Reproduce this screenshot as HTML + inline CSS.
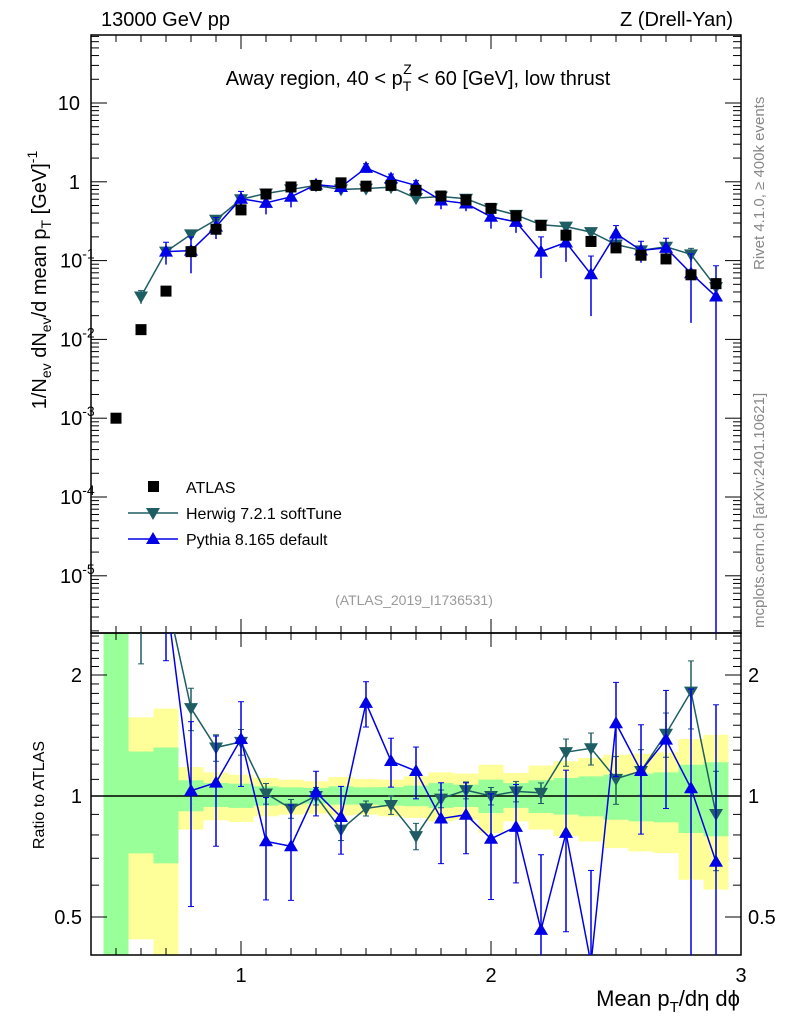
<!DOCTYPE html>
<html><head><meta charset="utf-8"><style>
html,body{margin:0;padding:0;background:#fff;width:786px;height:1024px;overflow:hidden}
svg{font-family:"Liberation Sans",sans-serif;display:block;position:absolute;left:0;top:0}
</style></head><body>
<svg id="c" width="786" height="1024" xmlns="http://www.w3.org/2000/svg">
<text x="101" y="26" font-size="20">13000 GeV pp</text>
<text x="733" y="26" font-size="20" text-anchor="end">Z (Drell-Yan)</text>
<text x="418" y="85" font-size="20" text-anchor="middle">Away region, 40 &lt; p<tspan font-size="14" dy="6">T</tspan><tspan font-size="14" dx="-8" dy="-17">Z</tspan><tspan dy="11"> &lt; 60 [GeV], low thrust</tspan></text>
<text x="414" y="605" font-size="14" fill="#999" text-anchor="middle">(ATLAS_2019_I1736531)</text>
<text transform="translate(764,270) rotate(-90)" font-size="15" fill="#888">Rivet 4.1.0, ≥ 400k events</text>
<text transform="translate(764,628) rotate(-90)" font-size="15" fill="#888">mcplots.cern.ch [arXiv:2401.10621]</text>
<text transform="translate(46,280) rotate(-90)" font-size="20" text-anchor="middle">1/N<tspan font-size="14" dy="5">ev</tspan><tspan dy="-5"> dN</tspan><tspan font-size="14" dy="5">ev</tspan><tspan dy="-5">/d mean p</tspan><tspan font-size="14" dy="5">T</tspan><tspan dy="-5"> [GeV]</tspan><tspan font-size="14" dy="-9">-1</tspan></text>
<text transform="translate(44,795) rotate(-90)" font-size="16" text-anchor="middle">Ratio to ATLAS</text>
<text x="740" y="1006" font-size="22" text-anchor="end">Mean p<tspan font-size="15" dy="6">T</tspan><tspan dy="-6">/dη dϕ</tspan></text>
<g>
<rect x="148" y="481" width="11" height="11" fill="#000"/>
<text x="186" y="493" font-size="16">ATLAS</text>
<line x1="128" x2="178" y1="513" y2="513" stroke="#1d5d63" stroke-width="1.5"/>
<polygon points="153,520 146,508 160,508" fill="#1d5d63"/>
<text x="186" y="519" font-size="16">Herwig 7.2.1 softTune</text>
<line x1="128" x2="178" y1="539" y2="539" stroke="#0000e6" stroke-width="1.5"/>
<polygon points="153,532 146,544 160,544" fill="#0000e6"/>
<text x="186" y="545" font-size="16">Pythia 8.165 default</text>
</g>
</svg>
<script>
const xs=[0.5,0.6,0.7,0.8,0.9,1.0,1.1,1.2,1.3,1.4,1.5,1.6,1.7,1.8,1.9,2.0,2.1,2.2,2.3,2.4,2.5,2.6,2.7,2.8,2.9];
const atlas=[0.001,0.0133,0.041,0.13,0.25,0.44,0.70,0.86,0.9,0.97,0.88,0.9,0.78,0.66,0.59,0.46,0.37,0.28,0.21,0.175,0.145,0.117,0.105,0.066,0.051];
const herwigX=[0.6,0.7,0.8,0.9,1.0,1.1,1.2,1.3,1.4,1.5,1.6,1.7,1.8,1.9,2.0,2.1,2.2,2.3,2.4,2.5,2.6,2.7,2.8,2.9];
const herwig=[0.035,0.13,0.215,0.33,0.60,0.71,0.80,0.9,0.80,0.82,0.855,0.62,0.65,0.61,0.46,0.38,0.285,0.27,0.23,0.16,0.135,0.15,0.12,0.046];
const herwigErr=[0.5,0.3,0.2,0.1,0.1,0.06,0.05,0.05,0.05,0.04,0.05,0.06,0.05,0.05,0.05,0.06,0.06,0.1,0.12,0.15,0.15,0.18,0.35,0.25];
const pythiaX=[0.7,0.8,0.9,1.0,1.1,1.2,1.3,1.4,1.5,1.6,1.7,1.8,1.9,2.0,2.1,2.2,2.3,2.4,2.5,2.6,2.7,2.8,2.9];
const pythia=[0.13,0.134,0.27,0.61,0.54,0.645,0.92,0.86,1.5,1.1,0.9,0.58,0.53,0.36,0.31,0.13,0.17,0.067,0.22,0.135,0.145,0.069,0.035];
const pythiaErr=[1.0,0.5,0.33,0.33,0.22,0.2,0.13,0.17,0.22,0.17,0.17,0.2,0.18,0.23,0.23,0.25,0.35,0.27,0.4,0.35,0.45,0.8,1.0];
const yelHi=[3,1.57,1.65,1.18,1.145,1.13,1.109,1.098,1.088,1.115,1.102,1.098,1.119,1.145,1.137,1.196,1.141,1.19,1.22,1.243,1.267,1.274,1.284,1.386,1.42];
const grnHi=[3,1.29,1.32,1.094,1.077,1.073,1.057,1.051,1.047,1.057,1.051,1.053,1.061,1.077,1.067,1.098,1.077,1.094,1.109,1.119,1.13,1.137,1.145,1.196,1.213];
const grnLo=[0.3,0.72,0.68,0.916,0.939,0.934,0.946,0.952,0.957,0.952,0.952,0.946,0.943,0.934,0.939,0.907,0.934,0.907,0.899,0.89,0.873,0.865,0.86,0.809,0.794];
const yelLo=[0.3,0.44,0.3,0.825,0.87,0.862,0.89,0.899,0.904,0.894,0.899,0.89,0.882,0.865,0.873,0.809,0.865,0.825,0.794,0.771,0.742,0.728,0.721,0.619,0.585];
const mainTicks=[-5,-4,-3,-2,-1,0,1];
const ratioTicks=[0.5,1,2];
const xTicks=[1,2,3];

const S=document.getElementById('c'),NS='http://www.w3.org/2000/svg';
function el(t,a,p){const e=document.createElementNS(NS,t);for(const k in a)e.setAttribute(k,a[k]);(p||S).appendChild(e);return e;}
const L=91,R=741,T=35,MB=633,RB=955;
const X=v=>L+(v-0.4)/2.6*(R-L);
const Y=v=>103-(Math.log10(v)-1)*78.8;
const YR=v=>796-Math.log2(v)*121;
const clipM=el('clipPath',{id:'cm'});el('rect',{x:L,y:T,width:R-L,height:MB-T},clipM);
const clipR=el('clipPath',{id:'cr'});el('rect',{x:L,y:MB,width:R-L,height:RB-MB},clipR);
const gb=el('g',{'clip-path':'url(#cr)'});


xs.forEach((x,i)=>{
 const x0=X(x-0.05),x1=X(x+0.05);
 const y1=el('rect',{x:x0,y:YR(yelHi[i]),width:x1-x0,height:YR(yelLo[i])-YR(yelHi[i]),fill:'#ffff99'},gb);
 
 
 const g1=el('rect',{x:x0,y:YR(grnHi[i]),width:x1-x0,height:YR(grnLo[i])-YR(grnHi[i]),fill:'#99ff99'},gb);
 
 
});
el('line',{x1:L,x2:R,y1:YR(1),y2:YR(1),stroke:'#000','stroke-width':1.5});
el('rect',{x:L,y:T,width:R-L,height:MB-T,fill:'none',stroke:'#000','stroke-width':1.5});
el('rect',{x:L,y:MB,width:R-L,height:RB-MB,fill:'none',stroke:'#000','stroke-width':1.5});
for(let k=4;k<=30;k++){const v=k/10,xp=X(v),maj=k%10==0;
 const len=maj?14:7;
 [[T,1],[MB,-1],[MB,1],[RB,-1]].forEach(([yy,d])=>el('line',{x1:xp,x2:xp,y1:yy,y2:yy+d*len,stroke:'#000'}));
}
xTicks.forEach(v=>{const t=el('text',{x:X(v),y:982,'font-size':20,'text-anchor':'middle'});t.textContent=v;
 
 });
for(let d=-6;d<=1;d++)for(let m=1;m<10;m++){const v=m*Math.pow(10,d),yp=Y(v);if(yp<T||yp>MB)continue;
 const len=m==1?16:8;el('line',{x1:L,x2:L+len,y1:yp,y2:yp,stroke:'#000'});el('line',{x1:R,x2:R-len,y1:yp,y2:yp,stroke:'#000'});}
mainTicks.forEach(d=>{const t=el('text',{x:d>=0?80:60,y:Y(Math.pow(10,d))+7,'font-size':20,'text-anchor':d>=0?'end':'start'});
 if(d==0)t.textContent='1';else if(d==1)t.textContent='10';else{t.textContent='10';const s=el('tspan',{dy:-9,'font-size':14},t);s.textContent=d;}
 
 });
for(let v=0.4;v<=2.55;v+=0.1){const yp=YR(v);if(yp<MB||yp>RB)continue;const r=Math.round(v*10)/10;const maj=(r==0.5||r==1||r==2);
 const len=maj?16:8;el('line',{x1:L,x2:L+len,y1:yp,y2:yp,stroke:'#000'});el('line',{x1:R,x2:R-len,y1:yp,y2:yp,stroke:'#000'});}
ratioTicks.forEach(v=>{[[82,'end'],[748,'start']].forEach(([x,a])=>{const t=el('text',{x:x,y:YR(v)+7,'font-size':20,'text-anchor':a});t.textContent=v;
 
 });});
function tri(g,x,y,up,c){const s=7;const p=up?`${x},${y-s} ${x-s},${y+5} ${x+s},${y+5}`:`${x},${y+s} ${x-s},${y-5} ${x+s},${y-5}`;
 return el('polygon',{points:p,fill:c},g);}
function series(xv,vals,errs,col,up,name){
 const gm=el('g',{'clip-path':'url(#cm)'});
 
 
 const gr=el('g',{'clip-path':'url(#cr)'});
 
 
 let pm='',pr='';
 xv.forEach((x,i)=>{const ai=xs.indexOf(x),a=atlas[ai],v=vals[i],r=v/a,e=errs[i];
  const xp=X(x),ym=Y(v),yr=YR(r);pm+=(i?'L':'M')+xp+','+ym;pr+=(i?'L':'M')+xp+','+yr;
  const lo=(r-e)>0.01?Y(v-e*a):MB,hi=Y(v+e*a);
  el('line',{x1:xp,x2:xp,y1:hi,y2:lo,stroke:col,'stroke-width':1.5},gm);
  el('line',{x1:xp-3,x2:xp+3,y1:hi,y2:hi,stroke:col},gm);
  const rlo=(r-e)>0.05?YR(r-e):RB,rhi=YR(r+e);
  el('line',{x1:xp,x2:xp,y1:rhi,y2:rlo,stroke:col,'stroke-width':1.5},gr);
  el('line',{x1:xp-3,x2:xp+3,y1:rhi,y2:rhi,stroke:col},gr);
  if(rlo<RB)el('line',{x1:xp-3,x2:xp+3,y1:rlo,y2:rlo,stroke:col},gr);
  const m1=tri(gm,xp,ym,up,col);
  
  
  const m2=tri(gr,xp,yr,up,col);
  
  
 });
 el('path',{d:pm,fill:'none',stroke:col,'stroke-width':1.5},gm);
 el('path',{d:pr,fill:'none',stroke:col,'stroke-width':1.5},gr);
}
series(herwigX,herwig,herwigErr,'#1d5d63',false,'herwig');
series(pythiaX,pythia,pythiaErr,'#0000e6',true,'pythia');
const ga=el('g',{'clip-path':'url(#cm)'});


xs.forEach((x,i)=>{const r=el('rect',{x:X(x)-5.5,y:Y(atlas[i])-5.5,width:11,height:11,fill:'#000'},ga);
 
 });
</script>
</body></html>
